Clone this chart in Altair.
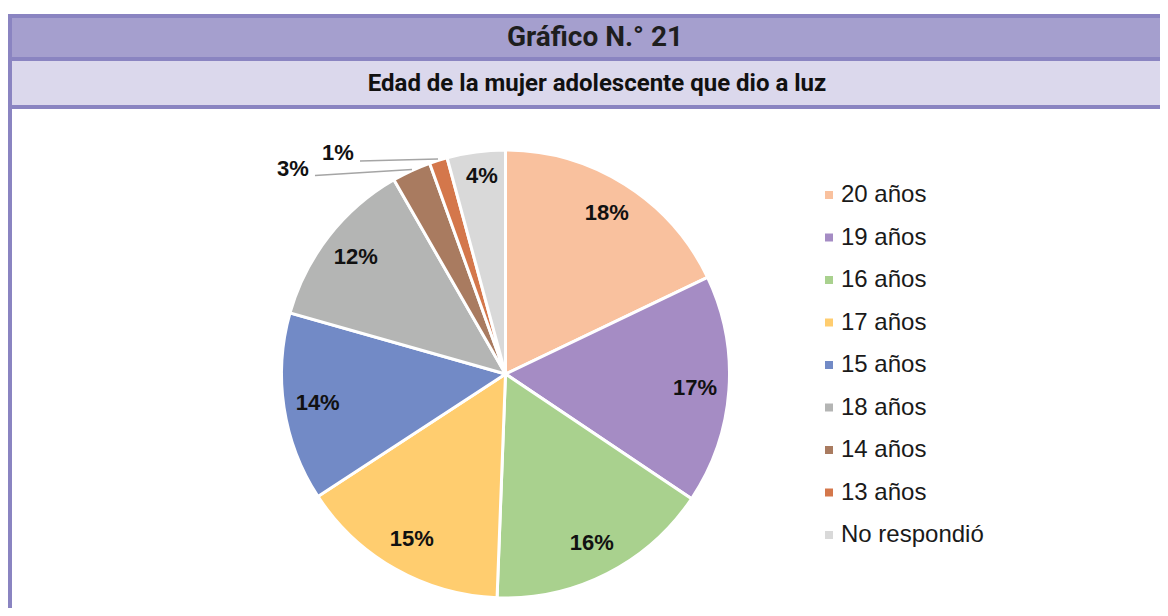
import altair as alt
import pandas as pd

# ---- data ----
categories = ["20 años", "19 años", "16 años", "17 años", "15 años",
              "18 años", "14 años", "13 años", "No respondió"]
shares = [17.9, 16.5, 16.2, 15.2, 13.6, 12.3, 2.8, 1.3, 4.2]
labels = ["18%", "17%", "16%", "15%", "14%", "12%", "3%", "1%", "4%"]
colors = ["#f9c19e", "#a58cc4", "#a9d18e", "#ffcd6f", "#728ac6",
          "#b4b5b4", "#a97b60", "#d4774b", "#d9d9d9"]

title_text = "Gráfico N.° 21"
subtitle_text = "Edad de la mujer adolescente que dio a luz"

df = pd.DataFrame({"cat": categories, "share": shares, "label": labels,
                   "idx": list(range(len(categories)))})

W, H = 1152, 600
CX, CY, R = 497.5, 366, 224
BORDER = "#8a84c1"
HEAD = "#a59fce"
SUB = "#dbd8ec"

one = alt.Data(values=[{}])

def box(x1, x2, y1, y2, fill):
    return alt.Chart(one).mark_rect(fill=fill, strokeWidth=0).encode(
        x=alt.value(x1), x2=alt.value(x2), y=alt.value(y1), y2=alt.value(y2))

frame = box(0, W, 6, H, BORDER)
head = box(4, W, 10, 49, HEAD)
sub = box(4, W, 53, 97, SUB)
body = box(4, W, 101, H, "#ffffff")

title = alt.Chart(one).mark_text(
    text=title_text, font="Roboto", fontSize=28, fontWeight="bold",
    color="#1e1e1e", align="center", baseline="middle").encode(
    x=alt.value(587), y=alt.value(30))
subtitle = alt.Chart(one).mark_text(
    text=subtitle_text, font="Roboto", fontSize=24, fontWeight="bold",
    color="#111111", align="center", baseline="middle").encode(
    x=alt.value(589), y=alt.value(76))

base = alt.Chart(df)

pie = base.mark_arc(outerRadius=R, stroke="white", strokeWidth=3).encode(
    theta=alt.Theta("share:Q", stack=True),
    order=alt.Order("idx:Q"),
    color=alt.Color("cat:N",
                    scale=alt.Scale(domain=categories, range=colors),
                    legend=alt.Legend(
                        title=None, orient="none", legendX=809, legendY=175,
                        padding=0,
                        symbolType="square", symbolSize=64,
                        symbolStrokeWidth=0, labelFont="Liberation Sans",
                        labelFontSize=24, labelColor="#1a1a1a",
                        labelOffset=0, rowPadding=18.5, labelLimit=300)),
    x=alt.value(CX), y=alt.value(CY))

inner = base.transform_calculate(
    shown="datum.share >= 4.5 ? datum.label : ''").mark_text(
    radius=190, font="Liberation Sans", fontSize=22, fontWeight="bold",
    color="#111111", align="center", baseline="middle").encode(
    theta=alt.Theta("share:Q", stack=True),
    order=alt.Order("idx:Q"),
    text="shown:N",
    x=alt.value(CX), y=alt.value(CY))

def callout(cat, px, py):
    return base.transform_filter(alt.datum.cat == cat).mark_text(
        font="Liberation Sans", fontSize=22, fontWeight="bold",
        color="#111111", align="center", baseline="middle").encode(
        text="label:N", x=alt.value(px), y=alt.value(py))

lab4 = callout("No respondió", 474, 168)
lab3 = callout("14 años", 285, 161)
lab1 = callout("13 años", 330, 145)

def leader(x1, y1, x2, y2):
    return alt.Chart(one).mark_rule(color="#a5a5a5", strokeWidth=1.5).encode(
        x=alt.value(x1), y=alt.value(y1), x2=alt.value(x2), y2=alt.value(y2))

line3 = leader(307, 167.5, 404, 161.5)
line1 = leader(352, 153, 430, 151)

chart = alt.layer(frame, head, sub, body, title, subtitle, pie, inner,
                  line3, line1, lab4, lab3, lab1).properties(
    width=W, height=H, autosize="none", padding=0
).configure_view(stroke=None)

chart.save("out.html", embed_options={"renderer": "svg", "actions": False})
